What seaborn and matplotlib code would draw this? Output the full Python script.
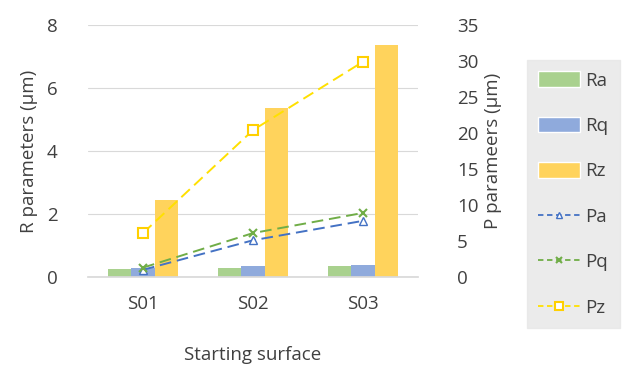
import matplotlib
matplotlib.use("Agg")
import matplotlib.pyplot as plt
import seaborn as sns
import pandas as pd

categories = ["S01", "S02", "S03"]
Ra = [0.25, 0.28, 0.35]
Rq = [0.30, 0.35, 0.38]
Rz = [2.45, 5.37, 7.37]
Pa = [1.0, 5.1, 7.8]
Pq = [1.3, 6.1, 8.9]
Pz = [6.1, 20.4, 29.9]

sns.set_theme(style="white")
plt.rcParams['font.family'] = ['Open Sans', 'DejaVu Sans']

df = pd.DataFrame({
    "cat": categories * 3,
    "val": Ra + Rq + Rz,
    "param": ["Ra"] * 3 + ["Rq"] * 3 + ["Rz"] * 3,
})
bar_colors = {"Ra": "#A9D18E", "Rq": "#8FAADC", "Rz": "#FFD35C"}
FS = 13.5
TC = "#404040"

fig = plt.figure(figsize=(6.3, 3.67), dpi=100)
ax = fig.add_axes([88/630, 1 - 277/367, 330/630, 252/367])
sns.barplot(data=df, x="cat", y="val", hue="param", palette=bar_colors,
            width=0.64, ax=ax, legend=False, saturation=1, linewidth=0)
ax.set_ylim(0, 8)
ax.set_yticks([0, 2, 4, 6, 8])
ax.set_xlim(-0.5, 2.5)
ax.grid(axis="y", color="#D9D9D9", linewidth=0.8)
ax.set_axisbelow(True)
for s in ["top", "right", "left"]:
    ax.spines[s].set_visible(False)
ax.spines["bottom"].set_color("#D9D9D9")
ax.tick_params(axis="y", labelsize=FS, colors=TC, length=0, pad=22)
ax.tick_params(axis="x", labelsize=FS, colors=TC, length=0, pad=13)
ax.set_xlabel("Starting surface", fontsize=FS, color=TC, labelpad=24)
ax.set_ylabel("R parameters (μm)", fontsize=FS, color=TC, labelpad=6)

ax2 = ax.twinx()
xs = [0, 1, 2]
ldf = pd.DataFrame({"x": xs * 3, "v": Pa + Pq + Pz, "p": ["Pa"] * 3 + ["Pq"] * 3 + ["Pz"] * 3})
line_styles = {
    "Pa": dict(color="#4472C4", marker="^", mfc="white", mec="#4472C4", ms=6),
    "Pq": dict(color="#70AD47", marker="x", mfc="#70AD47", mec="#70AD47", ms=6, mew=1.5),
    "Pz": dict(color="#FFE000", marker="s", mfc="white", mec="#FFD000", ms=7, mew=1.5),
}
for name in ["Pa", "Pq", "Pz"]:
    sub = ldf[ldf["p"] == name]
    st = line_styles[name]
    sns.lineplot(x=sub["x"], y=sub["v"], ax=ax2, color=st["color"], linestyle=(0, (6, 3)),
                 linewidth=1.4, marker=st["marker"], markerfacecolor=st["mfc"],
                 markeredgecolor=st["mec"], markersize=st["ms"],
                 markeredgewidth=st.get("mew", 1.0), label=name, legend=False)
ax2.set_ylim(0, 35)
ax2.set_yticks(range(0, 36, 5))
ax2.set_xlim(-0.5, 2.5)
for s in ["top", "right", "left", "bottom"]:
    ax2.spines[s].set_visible(False)
ax2.tick_params(axis="y", labelsize=FS, colors=TC, length=0, pad=28)
ax2.set_ylabel("P parameers (μm)", fontsize=FS, color=TC, labelpad=4)
ax2.set_xlabel("")

from matplotlib.patches import Patch
from matplotlib.lines import Line2D
handles = [Patch(facecolor=bar_colors[k], label=k) for k in ["Ra", "Rq", "Rz"]]
for name in ["Pa", "Pq", "Pz"]:
    st = line_styles[name]
    handles.append(Line2D([], [], color=st["color"], linestyle=(0, (3, 2)), linewidth=1.3,
                          marker=st["marker"], markerfacecolor=st["mfc"], markeredgecolor=st["mec"],
                          markersize=st["ms"] - 1, markeredgewidth=st.get("mew", 1.0), label=name))
leg = fig.legend(handles=handles, loc="upper left", bbox_to_anchor=(527/630, 1 - 60/367),
                 frameon=True, fontsize=FS, labelspacing=1.45, handlelength=2.2,
                 handleheight=0.9, borderpad=0.6, handletextpad=0.3, borderaxespad=0)
leg.get_frame().set_facecolor("#E6E6E6")
leg.get_frame().set_edgecolor("#E6E6E6")
leg.get_frame().set_boxstyle("square", pad=0)
for t in leg.get_texts():
    t.set_color(TC)

fig.savefig("out.png", dpi=100)
